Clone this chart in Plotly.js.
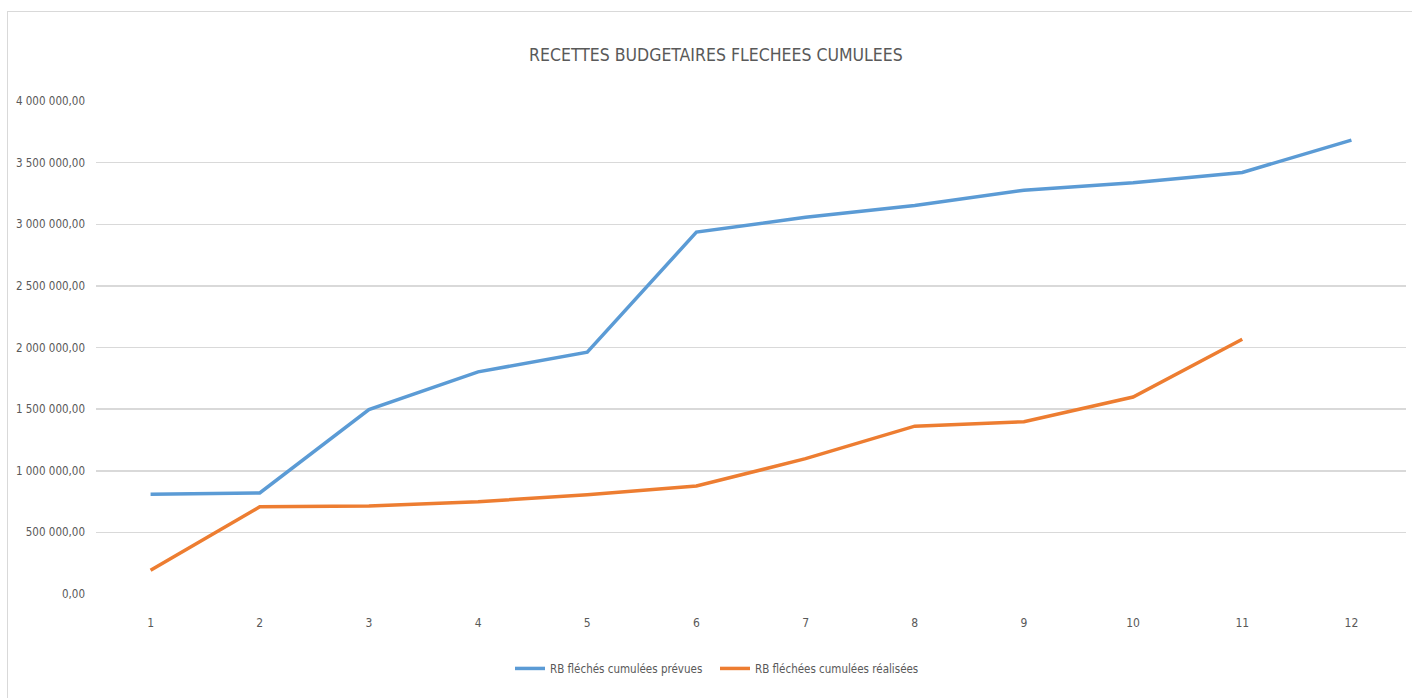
<!DOCTYPE html>
<html>
<head>
<meta charset="utf-8">
<script src="https://cdn.plot.ly/plotly-3.0.1.min.js"></script>
<style>
  html, body { margin: 0; padding: 0; background: #ffffff; overflow: hidden; }
  #chart { width: 1412px; height: 698px; }
  #frame {
    position: absolute; left: 7px; top: 11px; width: 1500px; height: 800px;
    border-left: 1.5px solid #d9d9d9; border-top: 1.5px solid #d9d9d9;
    pointer-events: none; z-index: 5;
  }
</style>
</head>
<body>
<div id="frame"></div>
<div id="chart"></div>
<script>
// Months of the budget year
const months = [1, 2, 3, 4, 5, 6, 7, 8, 9, 10, 11, 12];

// Cumulative earmarked budget revenue (planned)
const prevues = [810000, 820000, 1497000, 1802000, 1962000, 2936000, 3057000, 3153000, 3276000, 3336000, 3420000, 3682000];

// Cumulative earmarked budget revenue (realised), known up to month 11
const realisees = [193000, 707000, 715000, 748000, 806000, 876000, 1098000, 1362000, 1398000, 1598000, 2067000];

// Y-axis tick values and their French-formatted labels
const yTickVals = [0, 500000, 1000000, 1500000, 2000000, 2500000, 3000000, 3500000, 4000000];
const yTickText = ['0,00', '500 000,00', '1 000 000,00', '1 500 000,00', '2 000 000,00',
                   '2 500 000,00', '3 000 000,00', '3 500 000,00', '4 000 000,00'];

const seriesNames = ['RB fléchés cumulées prévues', 'RB fléchées cumulées réalisées'];
const chartTitle = 'RECETTES BUDGETAIRES FLECHEES CUMULEES';

const FONT = '"DejaVu Sans Condensed", "DejaVu Sans", sans-serif';
const GREY = '#595959';

const traces = [
  {
    x: months, y: prevues, name: seriesNames[0], type: 'scatter', mode: 'lines',
    line: { color: '#5B9BD5', width: 3.5, shape: 'linear' }
  },
  {
    x: months.slice(0, realisees.length), y: realisees, name: seriesNames[1],
    type: 'scatter', mode: 'lines',
    line: { color: '#ED7D31', width: 3.5, shape: 'linear' }
  }
];

const layout = {
  width: 1412, height: 698,
  margin: { l: 96, r: 6, t: 101, b: 104 },
  paper_bgcolor: '#ffffff', plot_bgcolor: '#ffffff',
  font: { family: FONT, color: GREY, size: 12 },
  title: {
    text: chartTitle,
    font: { family: FONT, size: 17.5, color: GREY },
    x: 0.507, xanchor: 'center', y: 0.922, yanchor: 'middle', xref: 'container'
  },
  xaxis: {
    range: [0.5, 12.5], tickmode: 'array', tickvals: months,
    ticktext: months.map(String),
    showgrid: false, zeroline: false, showline: false, ticks: '',
    ticklabelstandoff: 20,
    tickfont: { family: FONT, size: 12, color: GREY },
    fixedrange: true
  },
  yaxis: {
    range: [0, 4000000], tickmode: 'array', tickvals: yTickVals, ticktext: yTickText,
    showgrid: true, gridcolor: '#d9d9d9', gridwidth: 1.5,
    zeroline: false, showline: false, ticks: '',
    ticklabelstandoff: 10,
    tickfont: { family: FONT, size: 11.5, color: GREY },
    fixedrange: true
  },
  showlegend: true,
  legend: {
    orientation: 'h', xref: 'paper', x: (510 - 96) / 1310, xanchor: 'left',
    y: -0.151, yanchor: 'middle',
    font: { family: FONT, size: 11.5, color: GREY },
    itemwidth: 30, entrywidth: 160, entrywidthmode: 'pixels',
    tracegroupgap: 0, bgcolor: 'rgba(0,0,0,0)'
  },
  hovermode: false
};

Plotly.newPlot('chart', traces, layout, { displayModeBar: false, staticPlot: true });
</script>
</body>
</html>
